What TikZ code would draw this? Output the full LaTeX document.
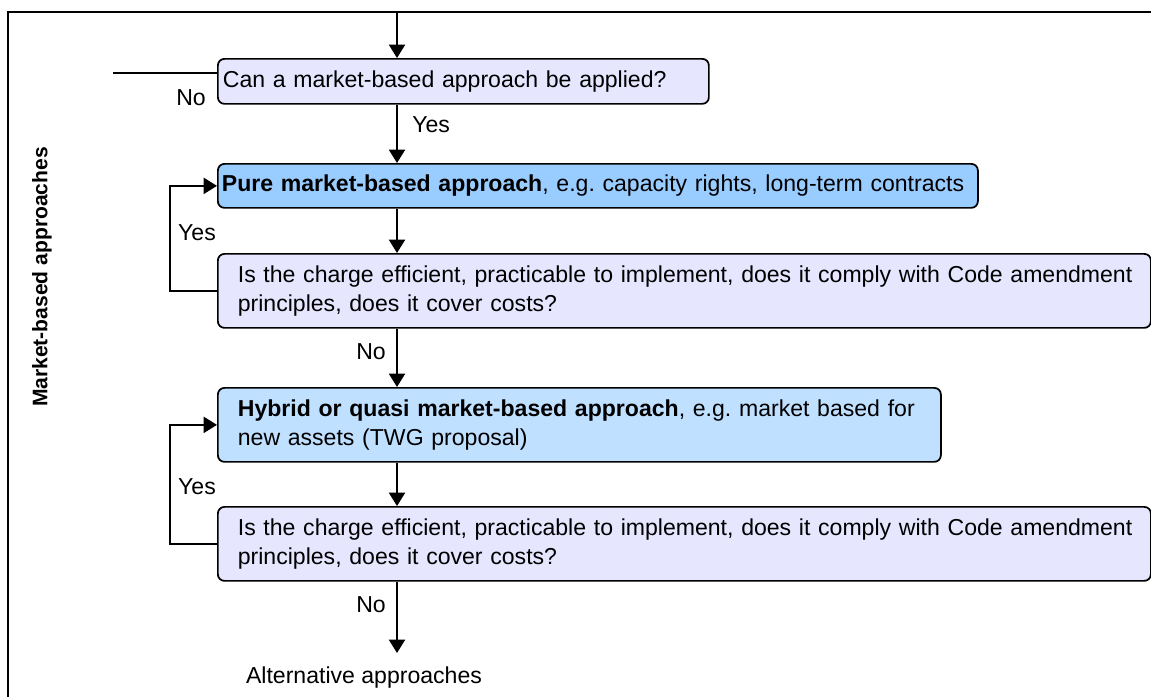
\documentclass[tikz,border=0pt]{standalone}
\usepackage{fontspec}
\setmainfont{Liberation Sans}
\usetikzlibrary{arrows.meta}
\definecolor{qfill}{RGB}{230,230,255}
\definecolor{purefill}{RGB}{153,204,255}
\definecolor{hybfill}{RGB}{192,224,255}

\begin{document}
\begin{tikzpicture}[x=0.75pt,y=-0.75pt]
    % Styles
    \tikzset{
      every node/.style={font=\fontsize{17.3}{21.75}\selectfont\frenchspacing, inner sep=0pt},
      box/.style={draw, line width=1.3pt, rounded corners=5pt, anchor=north west, align=left},
      arr/.style={line width=1.5pt, -{Triangle[length=10pt,width=12pt]}}
    }
    \useasboundingbox (0,0) rectangle (1151,697);

    % --- Frame and side title ---
    \draw[line width=1.5pt] (1151,12) -- (8,12) -- (8,697);
    \node[rotate=90, font=\bfseries\fontsize{15.8}{19}\selectfont] (side) at (42,277) {Market-based approaches};

    % --- Boxes ---
    \node[box, fill=qfill, inner xsep=3.75pt, text width=360.75pt, minimum height=33.75pt] (ask) at (217,58)
      {Can a market-based approach be applied?};
    \node[box, fill=purefill, inner xsep=3pt, text width=564pt, minimum height=33pt] (pure) at (217,163)
      {\mbox{\textbf{Pure market-based approach}, e.g. capacity rights, long-term contracts}};
    \node[box, fill=qfill, inner xsep=15pt, text width=669.75pt, minimum height=55.5pt] (check1) at (217,253)
      {\mbox{Is the charge efficient, practicable to implement, does it comply with Code amendment}\\principles, does it cover costs?};
    \node[box, fill=hybfill, inner xsep=15pt, text width=512.25pt, minimum height=55.5pt] (hybrid) at (217,387)
      {\mbox{\textbf{Hybrid or quasi market-based approach}, e.g. market based for}\\new assets (TWG proposal)};
    \node[box, fill=qfill, inner xsep=15pt, text width=669.75pt, minimum height=55.5pt] (check2) at (217,506)
      {\mbox{Is the charge efficient, practicable to implement, does it comply with Code amendment}\\principles, does it cover costs?};
    \node (alt) at (364,678) {Alternative approaches};

    % --- Main flow ---
    \coordinate (spine) at (397,0);
    \coordinate (entry) at (397,12);
    \coordinate (altend) at (397,653);
    \draw[arr] (entry) -- (entry |- ask.north);
    \draw[arr] (spine |- ask.south) -- (spine |- pure.north);
    \draw[arr] (spine |- pure.south) -- (spine |- check1.north);
    \draw[arr] (spine |- check1.south) -- (spine |- hybrid.north);
    \draw[arr] (spine |- hybrid.south) -- (spine |- check2.north);
    \draw[arr] (spine |- check2.south) -- (altend);

    % --- Loops back (Yes) ---
    \draw[arr] (check1.west) -- ++(-47,0) |- (pure.west);
    \draw[arr] (check2.west) -- ++(-47,0) |- (hybrid.west);

    % --- No exit from the first question ---
    \coordinate (nostub) at (113,73);
    \draw[line width=1.3pt] (nostub) -- (nostub -| ask.west);

    % --- Labels ---
    \node (no0) at (191,98) {No};
    \node[anchor=west] (yes0) at (412,125) {Yes};
    \node (yes1) at (197,233) {Yes};
    \node (no1) at (371,352) {No};
    \node (yes2) at (197,487) {Yes};
    \node (no2) at (371,605) {No};
\end{tikzpicture}
\end{document}
